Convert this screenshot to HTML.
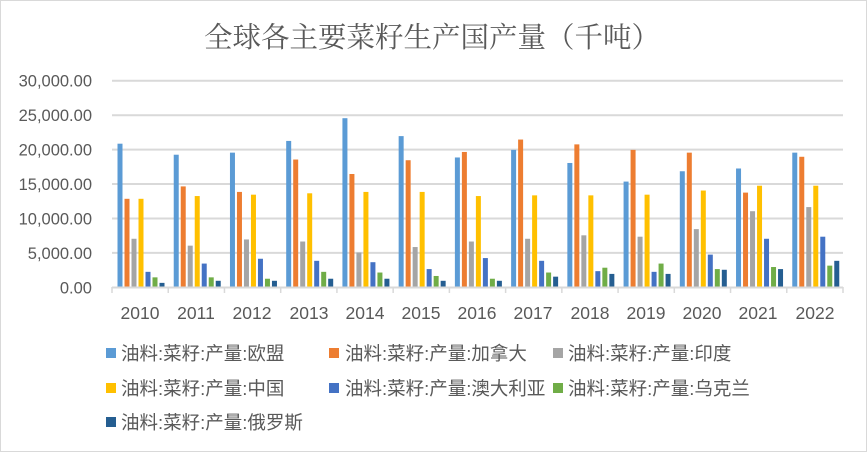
<!DOCTYPE html>
<html><head><meta charset="utf-8"><style>
html,body{margin:0;padding:0;background:#fff;}
svg{display:block;}
text{font-family:"Liberation Sans","Noto Sans CJK SC",sans-serif;fill:#595959;}
</style></head><body>
<svg id="s" width="867" height="452" xmlns="http://www.w3.org/2000/svg">
<rect x="0.5" y="0.5" width="866" height="451" fill="#fff" stroke="#d9d9d9"/>
<text x="432" y="47" text-anchor="middle" style="font-family:'Noto Serif CJK SC','Liberation Serif',serif;font-size:28.5px;fill:#595959">全球各主要菜籽生产国产量（千吨）</text>
<g stroke="#d9d9d9" stroke-width="2">
<line x1="112" x2="843" y1="80.7" y2="80.7"/><line x1="112" x2="843" y1="115.2" y2="115.2"/>
<line x1="112" x2="843" y1="149.6" y2="149.6"/><line x1="112" x2="843" y1="184" y2="184"/>
<line x1="112" x2="843" y1="218.5" y2="218.5"/><line x1="112" x2="843" y1="252.9" y2="252.9"/>
</g>
<g font-size="16.5" text-anchor="end">
<text x="92" y="86.5">30,000.00</text><text x="92" y="121">25,000.00</text>
<text x="92" y="155.5">20,000.00</text><text x="92" y="190">15,000.00</text>
<text x="92" y="224.5">10,000.00</text><text x="92" y="259">5,000.00</text>
<text x="92" y="293.5">0.00</text>
</g>
<g id="bars"></g>
<line x1="112" x2="843" y1="287.5" y2="287.5" stroke="#d9d9d9" stroke-width="2"/>
<g id="ticks" stroke="#d9d9d9" stroke-width="1.5"></g>
<g font-size="17.5" text-anchor="middle">
<text x="140" y="319">2010</text><text x="196" y="319">2011</text><text x="252" y="319">2012</text>
<text x="309" y="319">2013</text><text x="365" y="319">2014</text><text x="421" y="319">2015</text>
<text x="477" y="319">2016</text><text x="533" y="319">2017</text><text x="590" y="319">2018</text>
<text x="646" y="319">2019</text><text x="702" y="319">2020</text><text x="758" y="319">2021</text>
<text x="815" y="319">2022</text>
</g>
<g font-size="18.5">
<rect x="106" y="348" width="10" height="10" fill="#5B9BD5"/><text x="121" y="360">油料:菜籽:产量:欧盟</text>
<rect x="329" y="348" width="10" height="10" fill="#ED7D31"/><text x="345" y="360">油料:菜籽:产量:加拿大</text>
<rect x="553" y="348" width="10" height="10" fill="#A5A5A5"/><text x="568" y="360">油料:菜籽:产量:印度</text>
<rect x="106" y="383" width="10" height="10" fill="#FFC000"/><text x="121" y="395">油料:菜籽:产量:中国</text>
<rect x="329" y="383" width="10" height="10" fill="#4472C4"/><text x="345" y="395">油料:菜籽:产量:澳大利亚</text>
<rect x="553" y="383" width="10" height="10" fill="#70AD47"/><text x="568" y="395">油料:菜籽:产量:乌克兰</text>
<rect x="106" y="417" width="10" height="10" fill="#255E91"/><text x="121" y="429">油料:菜籽:产量:俄罗斯</text>
</g>
</svg>
<script>
var d=[[20.8,12.8,7.0,12.8,2.2,1.4,0.6],[19.2,14.6,6.0,13.2,3.4,1.4,0.9],[19.5,13.8,6.9,13.4,4.1,1.2,0.9],
[21.2,18.5,6.6,13.6,3.8,2.2,1.2],[24.5,16.4,5.0,13.8,3.6,2.1,1.2],[21.9,18.4,5.8,13.8,2.6,1.6,0.9],
[18.8,19.6,6.6,13.2,4.2,1.2,0.9],[19.9,21.4,7.0,13.3,3.8,2.1,1.5],[18.0,20.7,7.5,13.3,2.3,2.8,1.9],
[15.3,19.9,7.3,13.4,2.2,3.4,1.9],[16.8,19.5,8.4,14.0,4.7,2.6,2.5],[17.2,13.7,11.0,14.7,7.0,2.9,2.6],
[19.5,18.9,11.6,14.7,7.3,3.1,3.8]];
var c=["#5B9BD5","#ED7D31","#A5A5A5","#FFC000","#4472C4","#70AD47","#255E91"];
var ns="http://www.w3.org/2000/svg",g=document.getElementById("bars"),t=document.getElementById("ticks");
var cw=(843-112)/13;
for(var i=0;i<13;i++){var x0=112+i*cw;
for(var j=0;j<7;j++){var h=d[i][j]*34.45/5;var r=document.createElementNS(ns,"rect");
r.setAttribute("x",x0+5.5+j*7);r.setAttribute("width",5);r.setAttribute("y",287-h);r.setAttribute("height",h);r.setAttribute("fill",c[j]);g.appendChild(r);}}
for(var i=0;i<=13;i++){var l=document.createElementNS(ns,"line");var x=112+i*cw;
l.setAttribute("x1",x);l.setAttribute("x2",x);l.setAttribute("y1",287);l.setAttribute("y2",293);t.appendChild(l);}
</script>
</body></html>
